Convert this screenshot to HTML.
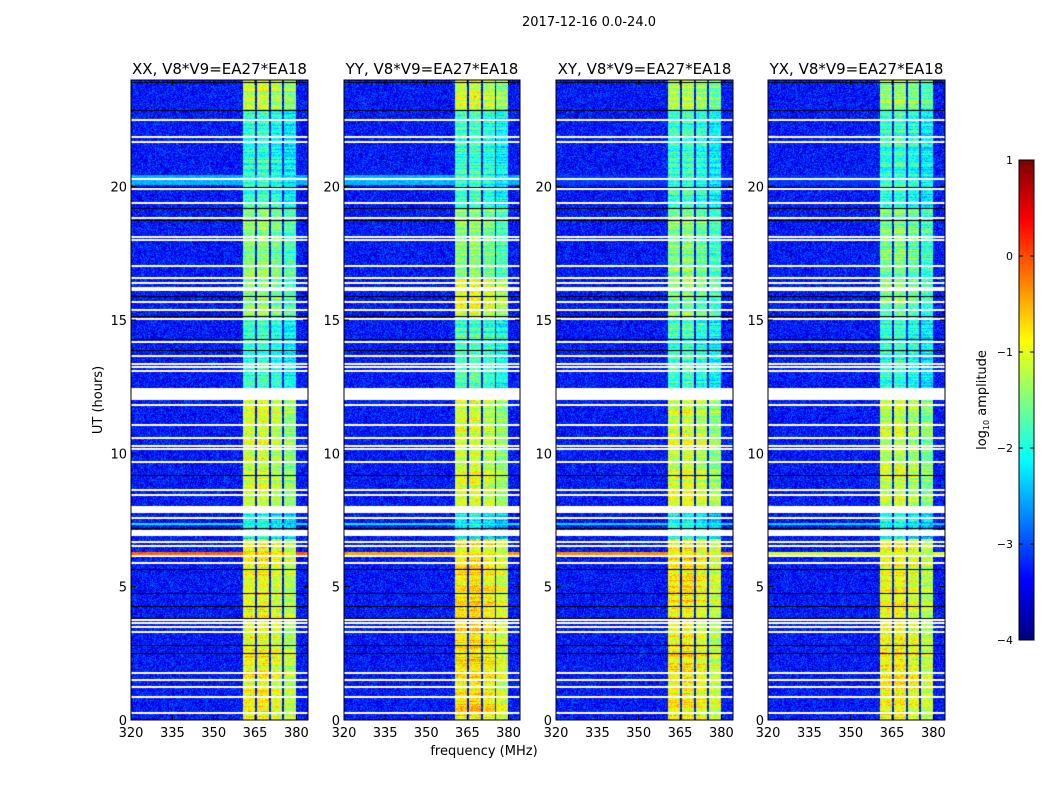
<!DOCTYPE html>
<html><head><meta charset="utf-8"><style>
body{margin:0;background:#fff;width:1050px;height:800px;overflow:hidden;position:relative;font-family:"DejaVu Sans","Liberation Sans",sans-serif;}
canvas{position:absolute;}
svg{position:absolute;left:0;top:0;}
</style></head><body>
<div>
<canvas id="c0" width="177" height="640" style="left:131px;top:80px"></canvas>
<canvas id="c1" width="176" height="640" style="left:344px;top:80px"></canvas>
<canvas id="c2" width="177" height="640" style="left:556px;top:80px"></canvas>
<canvas id="c3" width="177" height="640" style="left:768px;top:80px"></canvas>
<canvas id="cb" width="15" height="480" style="left:1019px;top:160px"></canvas>
<svg id="ov" width="1050" height="800"></svg>
</div>
<script>
const panelTitles=["XX, V8*V9=EA27*EA18","YY, V8*V9=EA27*EA18","XY, V8*V9=EA27*EA18","YX, V8*V9=EA27*EA18"];
const panelX=[131,344,556,768];
const xTicks=[320,335,350,365,380];
const yTicks=[0,5,10,15,20];
const cbTicks=[1,0,-1,-2,-3,-4];
const whiteRows=[[22.45,22.53],[21.84,21.9],[21.64,21.7],[20.25,20.31],[19.88,19.94],[19.35,19.41],[18.79,18.85],[18.07,18.14],[17.97,18.03],[16.99,17.05],[16.57,16.63],[16.37,16.43],[16.17,16.23],[16.12,16.17],[15.67,15.73],[15.37,15.43],[15.0,15.06],[14.14,14.2],[13.62,13.68],[13.32,13.38],[13.2,13.26],[13.07,13.13],[12.0,12.45],[11.78,11.84],[11.03,11.09],[10.57,10.63],[10.27,10.33],[10.13,10.19],[9.64,9.7],[8.59,8.65],[8.4,8.46],[7.76,8.02],[7.57,7.63],[6.9,7.12],[6.64,6.7],[6.49,6.55],[6.12,6.18],[5.85,5.91],[3.72,3.78],[3.61,3.67],[3.47,3.53],[3.27,3.33],[1.73,1.79],[1.47,1.53],[1.21,1.27],[0.83,0.89],[0.23,0.29]];
const blackRows=[23.92,22.87,21.9,20.0,19.2,18.75,15.9,15.15,14.3,13.87,9.19,7.2,5.66,4.76,4.27,3.82,2.8,2.5];
const bandXX=[[0,6.8,-1.0],[6.8,7.9,-2.2],[8,12,-1.2],[12.4,15,-1.95],[15,19.2,-1.6],[19.2,22.9,-2.0],[22.9,24,-1.25]];
const bandYY=[[0,6.8,-0.85],[6.8,7.9,-2.2],[8,12,-1.2],[12.4,15,-1.9],[15,16.6,-1.1],[16.6,19.2,-1.55],[19.2,22.9,-1.95],[22.9,24,-1.2]];
const bandXY=[[0,6.8,-0.95],[6.8,7.9,-2.2],[8,12,-1.2],[12.4,15,-1.95],[15,19.2,-1.6],[19.2,22.9,-1.95],[22.9,24,-1.35]];
const bandYX=[[0,6.8,-1.0],[6.8,7.9,-2.2],[8,12,-1.25],[12.4,15,-2.0],[15,19.2,-1.65],[19.2,22.9,-2.0],[22.9,24,-1.45]];
const bands=[bandXX,bandYY,bandXY,bandYX];
const subStart=[360.5,365.6,370.6,375.6];
const subEnd=[364.9,369.9,374.9,380.0];
const subOffset=[0.1,0.15,0.0,-0.2];
const bgLevel=-3.3;
const hLineH=[[6.2,6.3],[20.05,20.45],[7.3,7.4]];
const hLineLevel=[[-0.1,-0.4,-0.3,-1.1],[-2.5,-2.5,-3.1,-3.1],[-2.2,-2.2,-2.3,-2.3]];

const F0=320,F1=384.2,H0=0,H1=24,PH=640,PY=80;
function fx(f,w){return (f-F0)/(F1-F0)*w;}
function hy(h){return (H1-h)/(H1-H0)*PH;}
function jet(v){
  const r=Math.min(Math.max(1.5-Math.abs(4*v-3),0),1);
  const g=Math.min(Math.max(1.5-Math.abs(4*v-2),0),1);
  const b=Math.min(Math.max(1.5-Math.abs(4*v-1),0),1);
  return [r*255,g*255,b*255];
}
function cval(l){return (l+4)/5;}
function hash(a,b,c){let h=(a*374761393+b*668265263+c*2147483647)|0;h=(h^(h>>>13))*1274126177|0;h=h^(h>>>16);return ((h>>>0)%10000)/10000;}

for(let p=0;p<4;p++){
  const cv=document.getElementById('c'+p);const w=cv.width;const ctx=cv.getContext('2d');
  const img=ctx.createImageData(w,PH);
  for(let y=0;y<PH;y++){
    const h=H1-(y+0.5)/PH*(H1-H0);
    for(let x=0;x<w;x++){
      const f=F0+(x+0.5)/w*(F1-F0);
      let l=bgLevel+(hash(x,y,p)-0.5)*0.9;
      for(let k=0;k<hLineH.length;k++){if(h>=hLineH[k][0]&&h<hLineH[k][1])l=hLineLevel[k][p]+(hash(x,y,p+9)-0.5)*0.4;}
      for(let s=0;s<4;s++){
        if(f>=subStart[s]&&f<subEnd[s]){
          for(const seg of bands[p]){if(h>=seg[0]&&h<seg[1]){l=seg[2]+subOffset[s]+(hash(x,y,p+5)-0.5)*0.7+(hash(0,y,p+3)-0.5)*0.6;}}
        }
      }
      let c=jet(Math.min(Math.max(cval(l),0),1));
      const i=(y*w+x)*4;img.data[i]=c[0];img.data[i+1]=c[1];img.data[i+2]=c[2];img.data[i+3]=255;
    }
  }
  ctx.putImageData(img,0,0);
  ctx.fillStyle='#000';
  for(const b of blackRows){ctx.fillRect(0,Math.round(hy(b)),w,1);}
  ctx.fillStyle='#fff';
  for(const r of whiteRows){const y0=Math.round(hy(r[1])),y1=Math.round(hy(r[0]));ctx.fillRect(0,y0,w,Math.max(y1-y0,2));}
}
{const ctx=document.getElementById('cb').getContext('2d');
 for(let y=0;y<480;y++){const c=jet(1-y/480);ctx.fillStyle=`rgb(${c[0]|0},${c[1]|0},${c[2]|0})`;ctx.fillRect(0,y,15,1);}}

const NS='http://www.w3.org/2000/svg';const ov=document.getElementById('ov');
function el(tag,attrs,txt){const e=document.createElementNS(NS,tag);for(const k in attrs)e.setAttribute(k,attrs[k]);if(txt!==undefined)e.textContent=txt;ov.appendChild(e);return e;}
let t=el('text',{x:589,y:26,'text-anchor':'middle','font-size':13},'2017-12-16 0.0-24.0');


for(let p=0;p<4;p++){
  const x0=panelX[p];const w=(p==1?176:177);
  let r=el('rect',{x:x0,y:PY,width:w,height:PH,fill:'none',stroke:'#000','stroke-width':1});
  
  
  let tt=el('text',{x:x0+w/2,y:74,'text-anchor':'middle','font-size':15},panelTitles[p]);
  
  
  for(const f of xTicks){const x=x0+fx(f,w);
    el('line',{x1:x,x2:x,y1:PY+PH,y2:PY+PH-5,stroke:'#000'});el('line',{x1:x,x2:x,y1:PY,y2:PY+5,stroke:'#000'});
    let l=el('text',{x:x,y:737,'text-anchor':'middle','font-size':13},String(f));
    
    }
  for(const h of yTicks){const y=PY+hy(h);
    el('line',{x1:x0,x2:x0+5,y1:y,y2:y,stroke:'#000'});el('line',{x1:x0+w,x2:x0+w-5,y1:y,y2:y,stroke:'#000'});
    let l=el('text',{x:x0-4,y:y+5,'text-anchor':'end','font-size':13},String(h));
    
    }
}
t=el('text',{x:0,y:0,'text-anchor':'middle','font-size':13,transform:'translate(102,400) rotate(-90)'},'UT (hours)');


t=el('text',{x:484,y:755,'text-anchor':'middle','font-size':13},'frequency (MHz)');


el('rect',{x:1019,y:160,width:15,height:480,fill:'none',stroke:'#000'});
cbTicks.forEach((v,i)=>{const y=160+(1-v)/5*480;
  el('line',{x1:1019,x2:1023,y1:y,y2:y,stroke:'#000'});el('line',{x1:1034,x2:1030,y1:y,y2:y,stroke:'#000'});
  let l=el('text',{x:1013,y:y+4,'text-anchor':'end','font-size':11},(v<0?'\u2212':'')+Math.abs(v));
  
  });
t=el('text',{x:0,y:0,'text-anchor':'middle','font-size':13,transform:'translate(986,400) rotate(-90)'});


t.innerHTML='log<tspan font-size="8" dy="3">10</tspan><tspan dy="-3"> amplitude</tspan>';
</script>
</body></html>
